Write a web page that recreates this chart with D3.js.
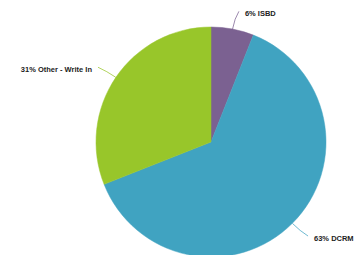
<!DOCTYPE html>
<html>
<head>
<meta charset="utf-8">
<script src="https://cdn.jsdelivr.net/npm/d3@7"></script>
<style>
  body { margin: 0; background: #fff; }
  svg { display: block; }
</style>
</head>
<body>
<script>
"use strict";
// slices, clockwise from 12 o'clock
const categories = ["ISBD", "DCRM", "Other - Write In"];
const values = [6, 63, 31];
const colors = ["#7b6191", "#40a3c1", "#98c62a"];

const measurements = { width: 354, height: 255, cx: 211, cy: 142, r: 115 };

const svg = d3.select("body").append("svg")
    .attr("width", measurements.width)
    .attr("height", measurements.height);

const rows = categories.map((c, i) => ({ name: c, value: values[i], color: colors[i] }));

const pie = d3.pie().sort(null).value(d => d.value);
const arc = d3.arc().innerRadius(0).outerRadius(measurements.r);

const g = svg.append("g")
    .attr("transform", `translate(${measurements.cx},${measurements.cy})`);

const arcs = pie(rows);

g.selectAll("path.slice")
    .data(arcs)
    .enter()
    .append("path")
    .attr("class", "slice")
    .attr("d", arc)
    .attr("fill", d => d.data.color)
    .attr("stroke", d => d.data.color)
    .attr("stroke-width", 0.5);

function polar(r, a) {
    return [r * Math.sin(a), -r * Math.cos(a)];
}

// leader lines + labels
arcs.forEach(d => {
    const mid = (d.startAngle + d.endAngle) / 2;
    const right = Math.sin(mid) > 0;
    const p0 = polar(measurements.r, mid);
    const c = polar(measurements.r + 11, mid);
    const p1 = polar(measurements.r + 18, mid);
    p1[0] += right ? 3 : -3;

    const path = d3.path();
    path.moveTo(p0[0], p0[1]);
    path.quadraticCurveTo(c[0], c[1], p1[0], p1[1]);
    g.append("path")
        .attr("d", path.toString())
        .attr("fill", "none")
        .attr("stroke", d.data.color)
        .attr("stroke-opacity", 0.75)
        .attr("stroke-width", 1);

    g.append("text")
        .attr("x", p1[0] + (right ? 6 : -6))
        .attr("y", p1[1] + 5)
        .attr("text-anchor", right ? "start" : "end")
        .style("font-family", "'Liberation Sans', Arial, sans-serif")
        .style("font-size", "7.5px")
        .style("font-weight", "bold")
        .attr("fill", "#222")
        .text(d.data.value + "% " + d.data.name);
});
</script>
</body>
</html>
